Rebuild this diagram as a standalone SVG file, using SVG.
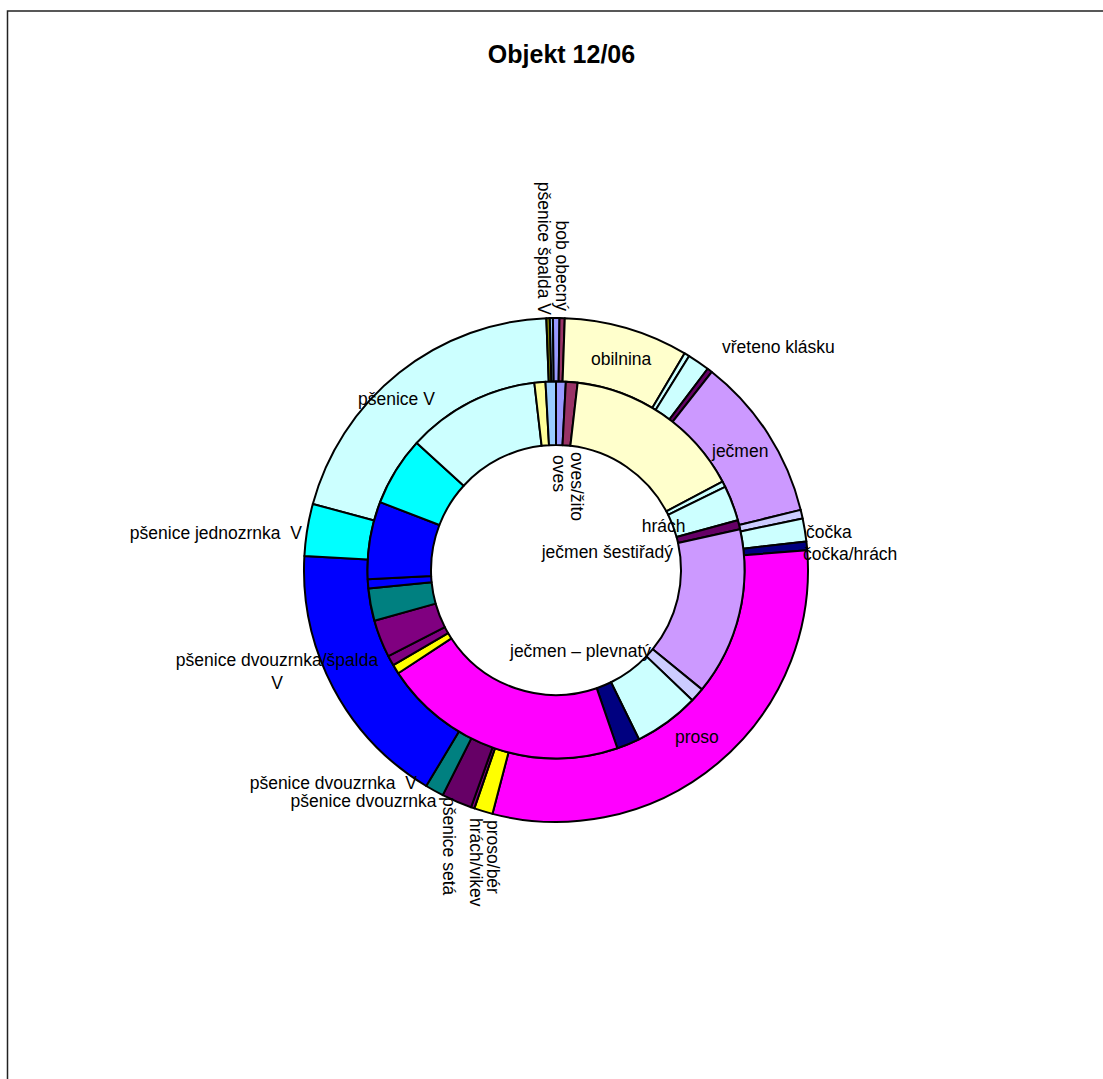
<svg xmlns="http://www.w3.org/2000/svg" width="1103" height="1079" viewBox="0 0 1103 1079">
<style>
.s{stroke:#000;stroke-width:2;stroke-linejoin:round}
.l{font-family:"Liberation Sans",Arial,sans-serif;font-size:17.5px;fill:#000}
.t{font-family:"Liberation Sans",Arial,sans-serif;font-size:25px;font-weight:bold;fill:#000}
.pc{fill:#CCFFFF}.ly{fill:#FFFFCC}.lv{fill:#9999FF}.mr{fill:#993366}.lb{fill:#99CCFF}.ol{fill:#808000}
.dp{fill:#660066}.jc{fill:#CC99FF}.pl{fill:#CCCCFF}.nv{fill:#000080}.mg{fill:#FF00FF}.ye{fill:#FFFF00}
.pu{fill:#800080}.te{fill:#008080}.bl{fill:#0000FF}.cy{fill:#00FFFF}.y9{fill:#FFFF99}
</style>
<rect width="1103" height="1079" fill="#fff"/>
<path d="M7.5 1079 V11 H1103" fill="none" stroke="#222" stroke-width="1.5"/>
<text class="t" x="561.5" y="63" text-anchor="middle">Objekt 12/06</text>
<g id="outer-ring">
<path class="s pc" d="M312.81 503.93 A252 252 0 0 1 546.33 318.19 L548.76 381.64 A188.5 188.5 0 0 0 374.09 520.58 Z"/>
<path class="s ol" d="M546.33 318.19 A252 252 0 0 1 549.84 318.08 L551.39 381.56 A188.5 188.5 0 0 0 548.76 381.64 Z"/>
<path class="s lb" d="M549.84 318.08 A252 252 0 0 1 552.92 318.02 L553.70 381.51 A188.5 188.5 0 0 0 551.39 381.56 Z"/>
<path class="s lv" d="M552.92 318.02 A252 252 0 0 1 559.52 318.02 L558.63 381.52 A188.5 188.5 0 0 0 553.70 381.51 Z"/>
<path class="s mr" d="M559.52 318.02 A252 252 0 0 1 564.79 318.15 L562.58 381.62 A188.5 188.5 0 0 0 558.63 381.52 Z"/>
<path class="s ly" d="M564.79 318.15 A252 252 0 0 1 684.67 353.32 L652.25 407.92 A188.5 188.5 0 0 0 562.58 381.62 Z"/>
<path class="s pc" d="M684.67 353.32 A252 252 0 0 1 689.17 356.06 L655.61 409.97 A188.5 188.5 0 0 0 652.25 407.92 Z"/>
<path class="s pc" d="M689.17 356.06 A252 252 0 0 1 707.66 368.74 L669.44 419.46 A188.5 188.5 0 0 0 655.61 409.97 Z"/>
<path class="s dp" d="M707.66 368.74 A252 252 0 0 1 711.84 371.96 L672.57 421.87 A188.5 188.5 0 0 0 669.44 419.46 Z"/>
<path class="s jc" d="M711.84 371.96 A252 252 0 0 1 800.72 509.89 L739.06 525.04 A188.5 188.5 0 0 0 672.57 421.87 Z"/>
<path class="s pl" d="M800.72 509.89 A252 252 0 0 1 802.67 518.47 L740.52 531.45 A188.5 188.5 0 0 0 739.06 525.04 Z"/>
<path class="s pc" d="M802.67 518.47 A252 252 0 0 1 806.38 541.47 L743.29 548.66 A188.5 188.5 0 0 0 740.52 531.45 Z"/>
<path class="s nv" d="M806.38 541.47 A252 252 0 0 1 807.22 550.23 L743.92 555.21 A188.5 188.5 0 0 0 743.29 548.66 Z"/>
<path class="s mg" d="M807.22 550.23 A252 252 0 0 1 492.48 813.86 L508.49 752.41 A188.5 188.5 0 0 0 743.92 555.21 Z"/>
<path class="s ye" d="M492.48 813.86 A252 252 0 0 1 474.37 808.41 L494.94 748.34 A188.5 188.5 0 0 0 508.49 752.41 Z"/>
<path class="s pu" d="M474.37 808.41 A252 252 0 0 1 471.05 807.25 L492.46 747.47 A188.5 188.5 0 0 0 494.94 748.34 Z"/>
<path class="s dp" d="M471.05 807.25 A252 252 0 0 1 442.77 795.13 L471.30 738.40 A188.5 188.5 0 0 0 492.46 747.47 Z"/>
<path class="s te" d="M442.77 795.13 A252 252 0 0 1 426.21 786.01 L458.92 731.58 A188.5 188.5 0 0 0 471.30 738.40 Z"/>
<path class="s bl" d="M426.21 786.01 A252 252 0 0 1 304.39 555.93 L367.79 559.48 A188.5 188.5 0 0 0 458.92 731.58 Z"/>
<path class="s cy" d="M304.39 555.93 A252 252 0 0 1 312.81 503.93 L374.09 520.58 A188.5 188.5 0 0 0 367.79 559.48 Z"/>
</g>
<g id="inner-ring">
<path class="s lv" d="M556 381.5 A188.5 188.5 0 0 1 565.87 381.76 L562.54 445.17 A125 125 0 0 0 556 445 Z"/>
<path class="s mr" d="M565.87 381.76 A188.5 188.5 0 0 1 577.67 382.75 L570.37 445.83 A125 125 0 0 0 562.54 445.17 Z"/>
<path class="s ly" d="M577.67 382.75 A188.5 188.5 0 0 1 722.44 481.51 L666.37 511.32 A125 125 0 0 0 570.37 445.83 Z"/>
<path class="s pc" d="M722.44 481.51 A188.5 188.5 0 0 1 725.13 486.78 L668.16 514.81 A125 125 0 0 0 666.37 511.32 Z"/>
<path class="s pc" d="M725.13 486.78 A188.5 188.5 0 0 1 737.82 520.26 L676.57 537.02 A125 125 0 0 0 668.16 514.81 Z"/>
<path class="s dp" d="M737.82 520.26 A188.5 188.5 0 0 1 740.03 529.20 L678.04 542.94 A125 125 0 0 0 676.57 537.02 Z"/>
<path class="s jc" d="M740.03 529.20 A188.5 188.5 0 0 1 701.87 689.39 L652.73 649.17 A125 125 0 0 0 678.04 542.94 Z"/>
<path class="s pl" d="M701.87 689.39 A188.5 188.5 0 0 1 692.28 700.23 L646.37 656.36 A125 125 0 0 0 652.73 649.17 Z"/>
<path class="s pc" d="M692.28 700.23 A188.5 188.5 0 0 1 638.93 739.28 L610.99 682.25 A125 125 0 0 0 646.37 656.36 Z"/>
<path class="s nv" d="M638.93 739.28 A188.5 188.5 0 0 1 617.37 748.23 L596.70 688.19 A125 125 0 0 0 610.99 682.25 Z"/>
<path class="s mg" d="M617.37 748.23 A188.5 188.5 0 0 1 398.27 673.22 L451.40 638.45 A125 125 0 0 0 596.70 688.19 Z"/>
<path class="s ye" d="M398.27 673.22 A188.5 188.5 0 0 1 393.25 665.10 L448.07 633.07 A125 125 0 0 0 451.40 638.45 Z"/>
<path class="s pu" d="M393.25 665.10 A188.5 188.5 0 0 1 388.34 656.15 L444.82 627.13 A125 125 0 0 0 448.07 633.07 Z"/>
<path class="s pu" d="M388.34 656.15 A188.5 188.5 0 0 1 374.44 620.69 L435.60 603.62 A125 125 0 0 0 444.82 627.13 Z"/>
<path class="s te" d="M374.44 620.69 A188.5 188.5 0 0 1 368.40 588.39 L431.60 582.20 A125 125 0 0 0 435.60 603.62 Z"/>
<path class="s bl" d="M368.40 588.39 A188.5 188.5 0 0 1 367.72 579.21 L431.15 576.11 A125 125 0 0 0 431.60 582.20 Z"/>
<path class="s bl" d="M367.72 579.21 A188.5 188.5 0 0 1 380.14 502.15 L439.38 525.01 A125 125 0 0 0 431.15 576.11 Z"/>
<path class="s cy" d="M380.14 502.15 A188.5 188.5 0 0 1 416.80 442.89 L463.69 485.71 A125 125 0 0 0 439.38 525.01 Z"/>
<path class="s pc" d="M416.80 442.89 A188.5 188.5 0 0 1 534.33 382.75 L541.63 445.83 A125 125 0 0 0 463.69 485.71 Z"/>
<path class="s y9" d="M534.33 382.75 A188.5 188.5 0 0 1 545.48 381.79 L549.02 445.20 A125 125 0 0 0 541.63 445.83 Z"/>
<path class="s lb" d="M545.48 381.79 A188.5 188.5 0 0 1 556 381.5 L556 445 A125 125 0 0 0 549.02 445.20 Z"/>
</g>
<g id="labels">
<text class="l" text-anchor="end" transform="translate(555.5 311) rotate(90)">bob obecný</text>
<text class="l" text-anchor="end" transform="translate(537.5 315) rotate(90)">pšenice špalda V</text>
<text class="l" x="591" y="365">obilnina</text>
<text class="l" x="722" y="353">vřeteno klásku</text>
<text class="l" x="712" y="457">ječmen</text>
<text class="l" x="806" y="537.5">čočka</text>
<text class="l" x="803" y="560">čočka/hrách</text>
<text class="l" x="675" y="743">proso</text>
<text class="l" x="358" y="405">pšenice V</text>
<text class="l" x="302" y="539" text-anchor="end" xml:space="preserve">pšenice jednozrnka  V</text>
<text class="l" x="277" y="666" text-anchor="middle">pšenice dvouzrnka/špalda</text>
<text class="l" x="277" y="689" text-anchor="middle">V</text>
<text class="l" x="417" y="789" text-anchor="end" xml:space="preserve">pšenice dvouzrnka  V</text>
<text class="l" x="436.5" y="807" text-anchor="end">pšenice dvouzrnka</text>
<text class="l" transform="translate(443 797) rotate(90)">pšenice setá</text>
<text class="l" transform="translate(469.5 818) rotate(90)">hrách/vikev</text>
<text class="l" transform="translate(487 820) rotate(90)">proso/bér</text>
<text class="l" transform="translate(552.5 455) rotate(90)">oves</text>
<text class="l" transform="translate(570.8 452) rotate(90)">oves/žito</text>
<text class="l" x="641.7" y="531.7">hrách</text>
<text class="l" x="541.7" y="558">ječmen šestiřadý</text>
<text class="l" x="510" y="657">ječmen – plevnatý</text>
</g>
</svg>
